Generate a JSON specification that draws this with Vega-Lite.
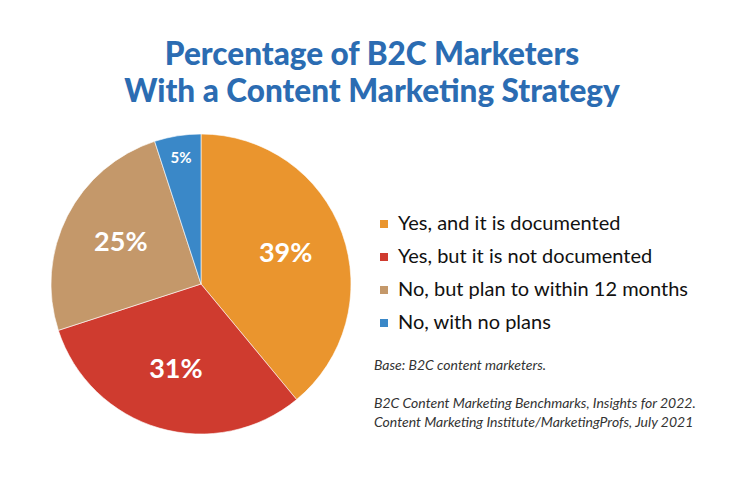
{
  "$schema": "https://vega.github.io/schema/vega-lite/v6.json",
  "width": 300,
  "height": 300,
  "autosize": {"type": "none"},
  "padding": {"left": 51, "top": 134, "right": 395, "bottom": 52},
  "background": "white",
  "title": {
    "text": ["Percentage of B2C Marketers", "With a Content Marketing Strategy"],
    "font": "Lato",
    "fontSize": 31.5,
    "fontWeight": 900,
    "color": "#2B6CB2",
    "anchor": "middle",
    "dx": 171,
    "offset": 24,
    "lineHeight": 37
  },
  "data": {
    "values": [
      {"answer": "Yes, and it is documented", "pct": 39, "rank": 1},
      {"answer": "Yes, but it is not documented", "pct": 31, "rank": 2},
      {"answer": "No, but plan to within 12 months", "pct": 25, "rank": 3},
      {"answer": "No, with no plans", "pct": 5, "rank": 4}
    ]
  },
  "transform": [{"calculate": "datum.pct + '%'", "as": "label"}],
  "encoding": {
    "theta": {"field": "pct", "type": "quantitative", "stack": true},
    "order": {"field": "rank", "type": "quantitative"}
  },
  "layer": [
    {
      "mark": {"type": "arc", "outerRadius": 150, "stroke": "white", "strokeWidth": 0.6},
      "encoding": {
        "color": {
          "field": "answer",
          "type": "nominal",
          "scale": {
            "domain": ["Yes, and it is documented", "Yes, but it is not documented", "No, but plan to within 12 months", "No, with no plans"],
            "range": ["#EA952E", "#CF3B2F", "#C4986A", "#3A88C8"]
          },
          "legend": {
            "orient": "none",
            "legendX": 323,
            "legendY": 80,
            "title": ["Base: B2C content marketers.", "\u200b", "B2C Content Marketing Benchmarks, Insights for 2022.", "Content Marketing Institute/MarketingProfs, July 2021"],
            "titleOrient": "bottom",
            "titleAnchor": "start",
            "titleAlign": "left",
            "titleFont": "Lato",
            "titleFontSize": 14,
            "titleFontStyle": "italic",
            "titleFontWeight": "normal",
            "titleColor": "#333333",
            "titleLineHeight": 19,
            "titleLimit": 400,
            "titlePadding": 26,
            "labelFont": "Lato",
            "labelFontSize": 20,
            "labelColor": "#111111",
            "labelLimit": 400,
            "labelOffset": 4,
            "symbolType": "square",
            "symbolSize": 64,
            "symbolStrokeWidth": 0,
            "rowPadding": 13
          }
        }
      }
    },
    {
      "mark": {"type": "text", "radius": 90, "font": "Lato", "fontSize": 27, "fontWeight": "bold", "color": "white"},
      "encoding": {
        "text": {"condition": {"test": "datum.pct >= 10", "field": "label"}, "value": ""}
      }
    },
    {
      "mark": {"type": "text", "radius": 128, "font": "Lato", "fontSize": 15, "fontWeight": "bold", "color": "white"},
      "encoding": {
        "text": {"condition": {"test": "datum.pct < 10", "field": "label"}, "value": ""}
      }
    }
  ]
}
